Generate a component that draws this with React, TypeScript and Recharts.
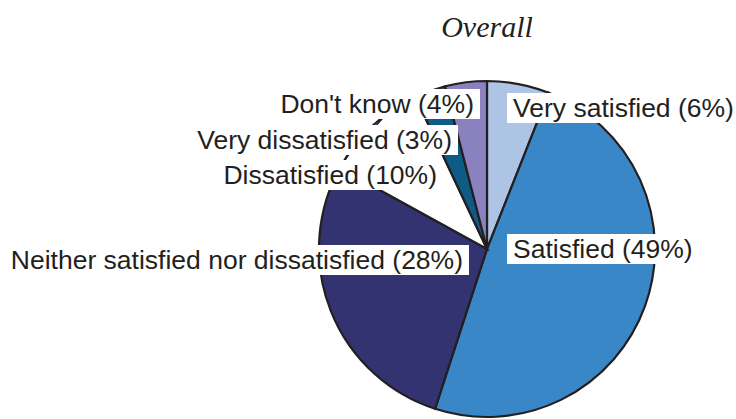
import React, { useLayoutEffect, useRef, useState } from 'react';
import { PieChart, Pie, Cell } from 'recharts';

const categories = [
  'Very satisfied',
  'Satisfied',
  'Neither satisfied nor dissatisfied',
  'Dissatisfied',
  'Very dissatisfied',
  "Don't know",
];
const percents = [6, 49, 28, 10, 3, 4];
const colors = ['#adc4e5', '#3a87c8', '#323370', '#ffffff', '#0e5c85', '#8a81bf'];

// label placement relative to pie centre: [dx, dy(baseline), anchor]
const labelLayout: [number, number, 'start' | 'end'][] = [
  [26, -132, 'start'],
  [26, 9, 'start'],
  [-24, 20, 'end'],
  [-50, -65, 'end'],
  [-35, -100, 'end'],
  [-13, -136, 'end'],
];
// short leader strokes (relative to centre) partially hidden by label boxes
const leaders: Record<number, [number, number, number, number]> = {
  3: [-144, -86, -136, -98],
  4: [-112, -122, -100, -136],
};

const data = categories.map((name, i) => ({ name, value: percents[i] }));

const FONT = '"Liberation Sans", Arial, Helvetica, sans-serif';

function BoxedText({ x, y, anchor, text, leader }: any) {
  const ref = useRef<SVGTextElement>(null);
  const [bb, setBb] = useState<{ x: number; width: number } | null>(null);
  useLayoutEffect(() => {
    if (ref.current) {
      const b = ref.current.getBBox();
      setBb({ x: b.x, width: b.width });
    }
  }, [x, y, text]);
  return (
    <g>
      {leader && (
        <line x1={leader[0]} y1={leader[1]} x2={leader[2]} y2={leader[3]} stroke="#231f20" strokeWidth={1.5} />
      )}
      {bb && <rect x={bb.x - 6} y={y - 24} width={bb.width + 12} height={30} fill="#ffffff" />}
      <text
        ref={ref}
        x={x}
        y={y}
        textAnchor={anchor}
        fontFamily={FONT}
        fontSize={26.5}
        fill="#231f20"
      >
        {text}
      </text>
    </g>
  );
}

const renderLabel = (props: any) => {
  const { cx, cy, index, name, value } = props;
  const [dx, dy, anchor] = labelLayout[index];
  const l = leaders[index];
  const leader = l ? [cx + l[0], cy + l[1], cx + l[2], cy + l[3]] : null;
  return (
    <BoxedText
      key={`lbl-${index}`}
      x={cx + dx}
      y={cy + dy}
      anchor={anchor}
      text={`${name} (${value}%)`}
      leader={leader}
    />
  );
};

export default function App() {
  return (
    <div style={{ position: 'absolute', left: 0, top: 0, width: 736, height: 419, background: '#fff' }}>
      <PieChart width={736} height={419} margin={{ top: 0, right: 0, bottom: 0, left: 0 }}>
        <Pie
          data={data}
          dataKey="value"
          nameKey="name"
          cx={487}
          cy={249}
          outerRadius={168}
          startAngle={90}
          endAngle={-270}
          isAnimationActive={false}
          label={renderLabel}
          labelLine={false}
        >
          {data.map((d, i) => (
            <Cell key={d.name} fill={colors[i]} stroke="#231f20" strokeWidth={2.2} />
          ))}
        </Pie>
      </PieChart>
      <svg width={736} height={60} style={{ position: 'absolute', left: 0, top: 0 }}>
        <text
          x={487}
          y={37}
          textAnchor="middle"
          fontFamily='"Liberation Serif", "DejaVu Serif", serif'
          fontStyle="italic"
          fontSize={30}
          fill="#231f20"
        >
          Overall
        </text>
      </svg>
    </div>
  );
}
